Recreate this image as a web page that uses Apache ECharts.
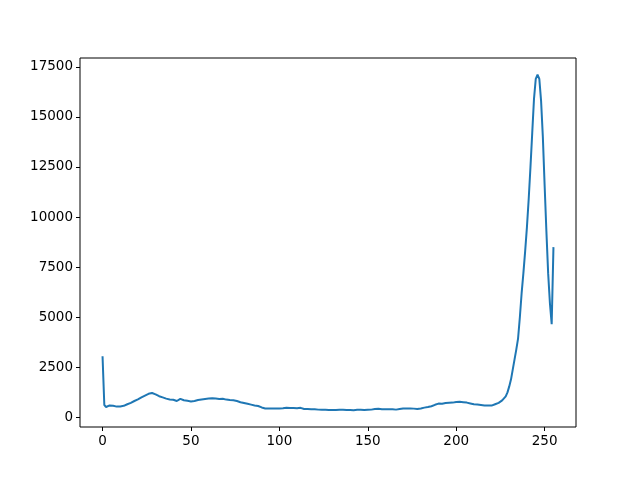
<!DOCTYPE html>
<html>
<head>
<meta charset="utf-8">
<script src="https://cdn.jsdelivr.net/npm/echarts@6/dist/echarts.min.js"></script>
<style>html,body{margin:0;padding:0;background:#fff}#c{width:640px;height:480px}</style>
</head>
<body>
<div id="c"></div>
<script>
// Histogram counts for intensity levels 0..255
const counts_0_49 = [3050, 620, 520, 560, 600, 540, 580, 560, 540, 530,
  550, 560, 580, 620, 660, 700, 730, 770, 820, 860,
  900, 950, 1000, 1050, 1090, 1140, 1180, 1210, 1220, 1190,
  1150, 1100, 1060, 1030, 1000, 960, 940, 920, 900, 870,
  880, 940, 820, 800, 930, 870, 860, 840, 830, 810];
const counts_50_99 = [800, 790, 820, 850, 870, 880, 900, 890, 920, 930,
  940, 920, 960, 970, 940, 950, 920, 910, 930, 900,
  890, 880, 870, 860, 860, 850, 820, 780, 760, 740,
  720, 700, 680, 660, 640, 620, 600, 590, 570, 540,
  500, 470, 450, 450, 445, 450, 445, 450, 440, 450];
const counts_100_149 = [445, 440, 460, 470, 480, 490, 470, 460, 470, 480,
  460, 470, 480, 460, 420, 410, 420, 430, 410, 400,
  410, 400, 390, 400, 380, 390, 380, 390, 370, 380,
  370, 380, 370, 390, 380, 370, 380, 390, 370, 380,
  370, 380, 360, 370, 380, 370, 380, 360, 370, 360];
const counts_150_199 = [380, 400, 390, 410, 420, 410, 430, 420, 410, 420,
  410, 420, 410, 400, 410, 400, 390, 400, 420, 440,
  450, 460, 450, 440, 450, 460, 440, 430, 420, 430,
  450, 470, 490, 510, 520, 540, 560, 590, 630, 660,
  690, 700, 680, 710, 720, 700, 730, 750, 740, 760];
const counts_200_255 = [770, 760, 780, 770, 760, 750, 740, 720, 700, 680,
  660, 650, 640, 630, 620, 610, 600, 610, 590, 600,
  590, 620, 660, 690, 730, 780, 850, 930, 1050, 1250,
  1550, 1900, 2400, 2900, 3400, 3950, 5000, 6200, 7200, 8300,
  9500, 10900, 12500, 14200, 15900, 16900, 17100, 16900, 15800, 14000,
  11600, 9300, 7200, 5700, 4650, 8500];
const counts = [].concat(counts_0_49, counts_50_99, counts_100_149, counts_150_199, counts_200_255);
const xTicks = [0, 50, 100, 150, 200, 250];
const yTicks = [0, 2500, 5000, 7500, 10000, 12500, 15000, 17500];

const seriesData = counts.map((v, i) => [i, v]);
const n = counts.length - 1;
const ymin = Math.min(...counts), ymax = Math.max(...counts);
const xpad = n * 0.05, ypad = (ymax - ymin) * 0.05;

const font = 'DejaVu Sans';
const chart = echarts.init(document.getElementById('c'), null, {renderer: 'canvas'});
chart.setOption({
  animation: false,
  backgroundColor: '#fff',
  grid: {left: 80, right: 64, top: 58, bottom: 53, show: true, borderColor: '#000', borderWidth: 1, backgroundColor: 'transparent'},
  xAxis: {
    type: 'value', min: -xpad, max: n + xpad,
    axisLine: {show: false, onZero: false},
    splitLine: {show: false},
    axisTick: {show: true, customValues: xTicks, length: 4, inside: false, lineStyle: {color: '#000', width: 1}},
    axisLabel: {customValues: xTicks, color: '#000', fontFamily: font, fontSize: 13.5, margin: 7, formatter: v => String(v)}
  },
  yAxis: {
    type: 'value', min: ymin - ypad, max: ymax + ypad,
    axisLine: {show: false, onZero: false},
    splitLine: {show: false},
    axisTick: {show: true, customValues: yTicks, length: 4, inside: false, lineStyle: {color: '#000', width: 1}},
    axisLabel: {customValues: yTicks, color: '#000', fontFamily: font, fontSize: 13.5, margin: 7, formatter: v => String(v)}
  },
  series: [{
    type: 'line', data: seriesData, showSymbol: false, symbol: 'none',
    lineStyle: {color: '#1f77b4', width: 2}, itemStyle: {color: '#1f77b4'}
  }]
});
</script>
</body>
</html>
